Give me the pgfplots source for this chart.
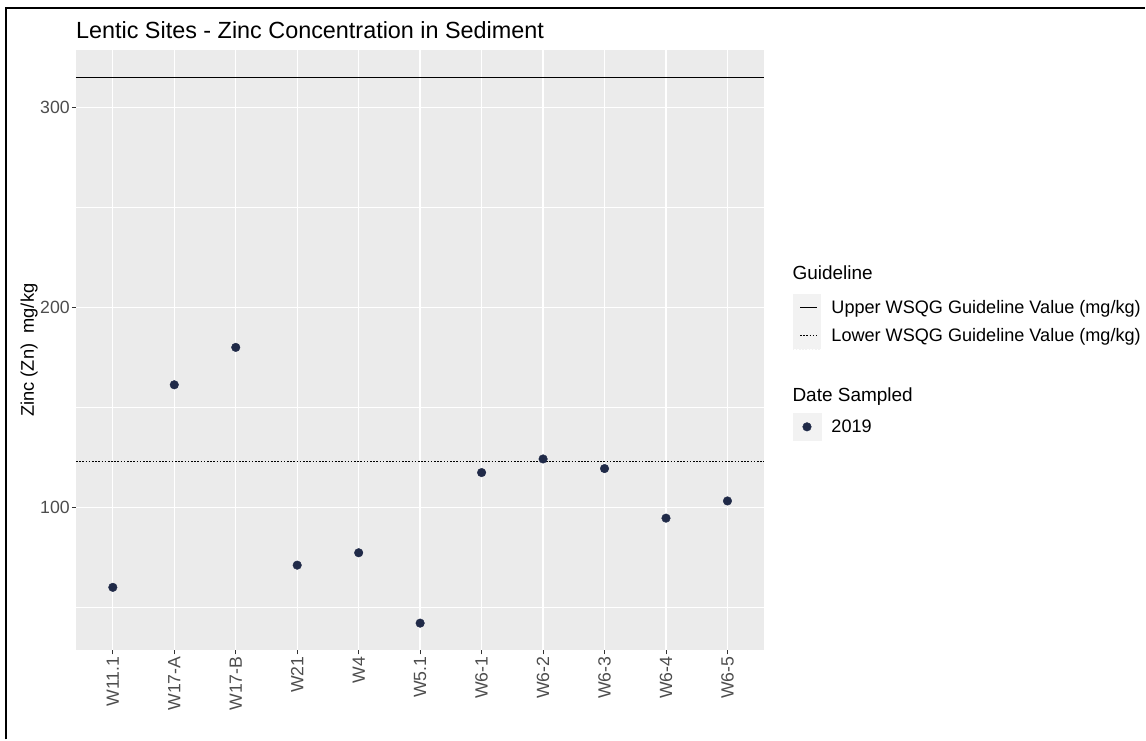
\documentclass[border=0pt]{standalone}
\usepackage{pgfplots}
\pgfplotsset{compat=1.18}
\usepackage{fontspec}
\setmainfont{Liberation Sans}
\definecolor{panelbg}{HTML}{EBEBEB}
\definecolor{keybg}{HTML}{F2F2F2}
\definecolor{ptcol}{HTML}{202A48}
\definecolor{ticktxt}{HTML}{4D4D4D}
\definecolor{tickcol}{HTML}{333333}
\begin{document}
\begin{tikzpicture}
\path (0pt,0pt) rectangle (1146pt,740pt);
\draw[black,line width=2pt] (6pt,0pt) -- (6pt,732pt) -- (1146pt,732pt);
\node[anchor=west,font=\fontsize{23.4}{26}\selectfont,inner sep=0pt] at (76pt,710pt) {Lentic Sites - Zinc Concentration in Sediment};
\begin{axis}[
  at={(76pt,89pt)}, anchor=south west,
  scale only axis, width=689pt, height=601pt,
  xmin=-0.6, xmax=10.6, ymin=28.35, ymax=328.65,
  axis background/.style={fill=panelbg},
  axis line style={draw=none},
  xtick={0,...,10},
  xticklabels={W11.1,W17-A,W17-B,W21,W4,W5.1,W6-1,W6-2,W6-3,W6-4,W6-5},
  ytick={100,200,300},
  minor ytick={50,150,250},
  grid=both,
  major grid style={white,line width=1.3pt},
  minor grid style={white,line width=0.6pt},
  tick style={tickcol,line width=0.8pt},
  major tick length=4pt, minor tick length=0pt,
  tick align=outside,
  xtick pos=bottom, ytick pos=left,
  /pgf/number format/assume math mode=true,
  ticklabel style={font=\fontsize{17.7}{21}\selectfont, text=ticktxt},
  xticklabel style={rotate=90, anchor=east, inner sep=2pt},
  yticklabel style={inner sep=2pt},
  ylabel={Zinc (Zn)\ \ mg/kg},
  ylabel style={font=\fontsize{18.3}{21}\selectfont},
  ylabel shift=-3pt,
  legend style={at={(rel axis cs:1,0.594)}, anchor=north west, xshift=28pt,
    draw=none, fill=none, font=\fontsize{18.1}{21}\selectfont,
    row sep=0pt, inner sep=0pt,
    nodes={minimum height=28pt, inner sep=0pt},
    /tikz/every odd column/.append style={column sep=10pt}},
  legend cell align=left,
  clip=false,
]
\addplot[black, line width=1pt,
  legend image code/.code={\fill[keybg] (-1pt,-13.5pt) rectangle (27pt,13.5pt); \draw[black,line width=1pt] (6pt,0pt) -- (23pt,0pt);}]
  coordinates {(-0.6,314.8) (10.6,314.8)};
\addlegendentry{Upper WSQG Guideline Value (mg/kg)}
\addplot[black, line width=1pt, dash pattern=on 1.6pt off 1.6pt,
  legend image code/.code={\fill[keybg] (-1pt,-13.5pt) rectangle (27pt,13.5pt); \draw[black,line width=1pt,dash pattern=on 1.6pt off 1.6pt] (6pt,0pt) -- (23pt,0pt);}]
  coordinates {(-0.6,122.9) (10.6,122.9)};
\addlegendentry{Lower WSQG Guideline Value (mg/kg)}
\addlegendimage{empty legend}
\addlegendentry{\rule{0pt}{61.5pt}}
\addplot[only marks, mark=*, mark size=4.3pt, mark options={fill=ptcol, draw=ptcol},
  legend image code/.code={\fill[keybg] (-1pt,-13.5pt) rectangle (27pt,13.5pt); \fill[ptcol] (13pt,0pt) circle (4.3pt);}]
  coordinates {
  (0,59.9) (1,161.2) (2,179.9) (3,71.0) (4,77.2) (5,42.0)
  (6,117.3) (7,124.1) (8,119.3) (9,94.5) (10,103.1)};
\addlegendentry{2019}
\node[anchor=base west, inner sep=0pt, font=\fontsize{19}{22}\selectfont, xshift=28pt] at (rel axis cs:1,0.618) {Guideline};
\node[anchor=base west, inner sep=0pt, font=\fontsize{19}{22}\selectfont, xshift=28pt] at (rel axis cs:1,0.4143) {Date Sampled};
\end{axis}
\end{tikzpicture}
\end{document}
